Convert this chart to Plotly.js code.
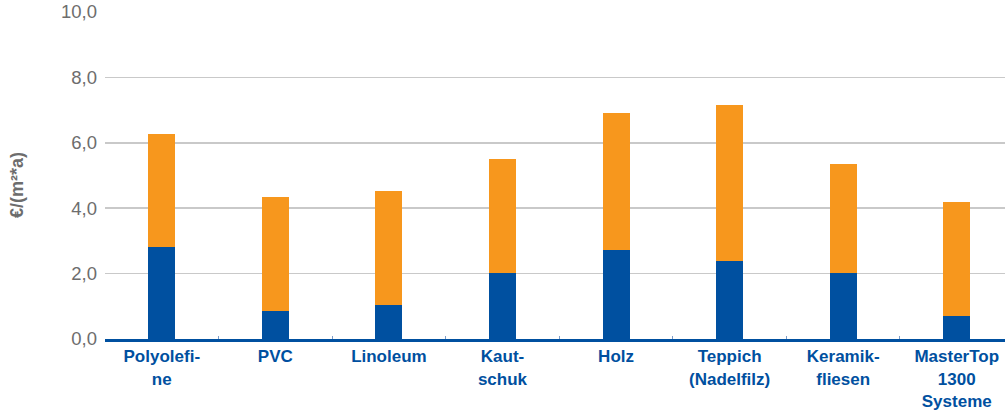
<!DOCTYPE html>
<html>
<head>
<meta charset="utf-8">
<script src="https://cdn.plot.ly/plotly-3.0.1.min.js"></script>
<style>html,body{margin:0;padding:0;background:#fff;}#chart{width:1005px;height:412px;}</style>
</head>
<body>
<div id="chart"></div>
<script>
var categories = ["Polyolefi-<br>ne", "PVC", "Linoleum", "Kaut-<br>schuk", "Holz", "Teppich<br>(Nadelfilz)", "Keramik-<br>fliesen", "MasterTop<br>1300<br>Systeme"];
var seriesBlue = [2.80, 0.87, 1.05, 2.03, 2.73, 2.39, 2.01, 0.71];
var seriesOrange = [3.48, 3.48, 3.49, 3.48, 4.19, 4.77, 3.35, 3.49];
var yTickVals = [0, 2, 4, 6, 8, 10];
var yTitle = "€/(m²*a)";

var BLUE = "#0050A0", ORANGE = "#F7971D";
var traces = [
  {type: "bar", x: categories, y: seriesBlue, marker: {color: BLUE}, width: 0.238, hoverinfo: "y"},
  {type: "bar", x: categories, y: seriesOrange, marker: {color: ORANGE}, width: 0.238, hoverinfo: "y"}
];
var layout = {
  width: 1005, height: 412,
  margin: {l: 105, r: 0, t: 12, b: 73, pad: 0},
  barmode: "stack",
  showlegend: false,
  separators: ",.",
  paper_bgcolor: "#fff", plot_bgcolor: "#fff",
  font: {family: "Liberation Sans, Arial, sans-serif"},
  xaxis: {
    type: "category",
    range: [-0.5, 7.425],
    showline: true, linecolor: BLUE, linewidth: 3,
    ticks: "inside", tickson: "boundaries", ticklen: 3, tickcolor: "#7d9cc8", tickwidth: 1,
    tickfont: {size: 17, color: BLUE, family: "Liberation Sans, Arial, sans-serif", weight: "bold"},
    showgrid: false, fixedrange: true
  },
  yaxis: {
    range: [0, 10],
    tickvals: yTickVals,
    tickformat: ".1f",
    showgrid: true, gridcolor: "#c9c9c9", gridwidth: 1.5,
    zeroline: false, showline: false, ticks: "",
    ticklabelstandoff: 7,
    tickfont: {size: 18.5, color: "#6d6d6d"},
    fixedrange: true
  },
  annotations: [{
    text: yTitle, xref: "paper", yref: "paper",
    x: -0.097, y: 0.47, xanchor: "center", yanchor: "middle",
    textangle: -90, showarrow: false,
    font: {size: 18, color: "#6d6d6d", weight: "bold"}
  }]
};
Plotly.newPlot("chart", traces, layout, {displayModeBar: false, staticPlot: true});
</script>
</body>
</html>
